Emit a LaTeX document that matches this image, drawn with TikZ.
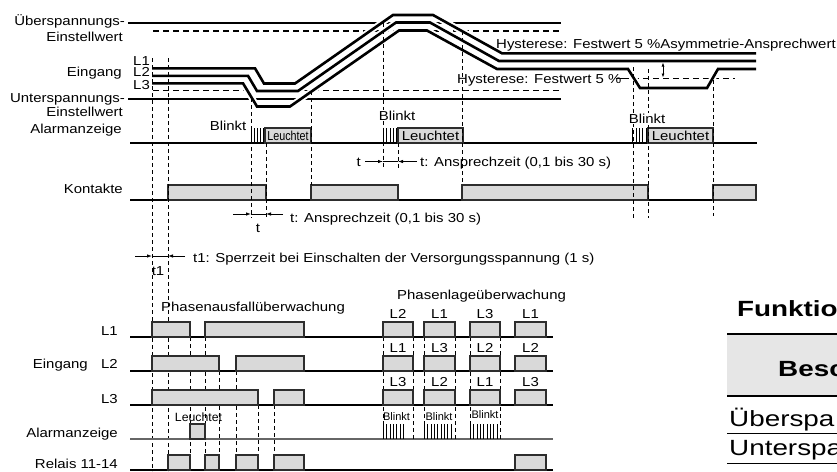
\documentclass[tikz,border=0pt]{standalone}
\usepackage{graphicx}
\usepackage{fontspec}
\setmainfont{Liberation Sans}[FakeStretch=1.15]
\usetikzlibrary{arrows.meta}
\definecolor{pfill}{RGB}{217,217,217}
\definecolor{pdraw}{RGB}{45,45,45}
\definecolor{hfill}{RGB}{230,230,230}
\newcommand\lf{\fontsize{13}{15}\selectfont}
\newcommand\tf{\fontsize{22}{26}\selectfont}
\newcommand\tbl[1]{\scalebox{1.1}[1]{#1}}
\begin{document}
\begin{tikzpicture}[x=1pt,y=-1pt,
  lbl/.style={inner sep=0pt, font=\lf},
  inl/.style={line width=2.6pt, line join=miter},
  casing/.style={line width=6.5pt, white},
  refl/.style={line width=2pt},
  refd/.style={line width=1.1pt, dash pattern=on 6pt off 4pt},
  guide/.style={line width=0.8pt, dash pattern=on 4pt off 3pt},
  baseln/.style={line width=1.1pt},
  pulse/.style={draw=pdraw, fill=pfill, line width=1.1pt},
  hatch/.style={line width=0.8pt},
  dim/.style={line width=0.8pt, -{Latex[length=5pt,width=3.5pt]}},
  blk/.style={lbl, fill=white, inner sep=0.6pt},
  tcell/.style={inner sep=0pt, anchor=base west, font=\tf},
]
\useasboundingbox (0,0) rectangle (837,471);
\begin{scope}
\clip (0,0) rectangle (837,471);

% ---------- left labels (top part)
\node[lbl, anchor=base east] (ov1) at (125,25) {Überspannungs-};
\node[lbl, anchor=base east] (ov2) at (123,41.7) {Einstellwert};
\node[lbl, anchor=base east] (ein) at (122,76.5) {Eingang};
\node[lbl, anchor=base west] (tl1) at (133,65) {L1};
\node[lbl, anchor=base west] (tl2) at (133,76.5) {L2};
\node[lbl, anchor=base west] (tl3) at (133,89) {L3};
\node[lbl, anchor=base east] (uv1) at (125,102.7) {Unterspannungs-};
\node[lbl, anchor=base east] (uv2) at (123,116) {Einstellwert};
\node[lbl, anchor=base east] (al) at (122,133) {Alarmanzeige};
\node[lbl, anchor=base east] (ko) at (123,193.5) {Kontakte};

% ---------- reference levels
\draw[refl] (128,22.7) -- (561,22.7);
\draw[refd] (153,31) -- (561,31);
\draw[refd] (153,90.8) -- (561,90.8);
\draw[refl] (128,98.7) -- (561,98.7);
\draw[refd] (623,78.5) -- (735,78.5);
\draw[line width=0.8pt] (616,78.5) -- (623,78.5);

% ---------- baselines
\draw[baseln] (130,143) -- (757,143);
\draw[baseln] (130,200) -- (757,200);

% ---------- input lines
\draw[casing] (152,68.3) -- (255,68.3) -- (264,83.5) -- (295,83.5) -- (393,15) -- (433,15) -- (502,53.3) -- (756,53.3);
\draw[casing] (152,75.8) -- (248,75.8) -- (257,91) -- (298,91) -- (396,22.5) -- (430,22.5) -- (499,61) -- (756,61);
\draw[casing] (152,83.3) -- (243,83.3) -- (257,106.5) -- (290,106.5) -- (399,30.5) -- (427,30.5) -- (497,69) -- (628,69) -- (640,88) -- (707,88) -- (718,69) -- (756,69);
\draw[inl] (152,68.3) -- (255,68.3) -- (264,83.5) -- (295,83.5) -- (393,15) -- (433,15) -- (502,53.3) -- (756,53.3);
\draw[inl] (152,75.8) -- (248,75.8) -- (257,91) -- (298,91) -- (396,22.5) -- (430,22.5) -- (499,61) -- (756,61);
\draw[inl] (152,83.3) -- (243,83.3) -- (257,106.5) -- (290,106.5) -- (399,30.5) -- (427,30.5) -- (497,69) -- (628,69) -- (640,88) -- (707,88) -- (718,69) -- (756,69);

% asymmetry arrow
\draw[line width=0.8pt, {Latex[length=4pt,width=3pt]}-{Latex[length=4pt,width=3pt]}] (663,62.5) -- (663,77.5);

% hysteresis labels
\node[lbl, anchor=base west] (hy1) at (496,48.3) {Hysterese: Festwert 5 \%Asymmetrie-Ansprechwert};
\node[lbl, anchor=base west] (hy2) at (457,83) {Hysterese: Festwert 5 \%};

% ---------- contacts
\draw[pulse] (168,185) rectangle (266,200);
\draw[pulse] (311,185) rectangle (398,200);
\draw[pulse] (462,185) rectangle (648,200);
\draw[pulse] (713,185) rectangle (756,200);

% ---------- alarm indicator (top)
\draw[pulse] (265,128) rectangle (311,143);
\draw[pulse] (398,128) rectangle (463,143);
\draw[pulse] (648,128) rectangle (713,143);
\foreach \x in {251,254.1,257.2,260.3,263.4} \draw[hatch] (\x,128) -- (\x,143);
\foreach \x in {383.3,386.7,390,393.3,396.7} \draw[hatch] (\x,128) -- (\x,143);
\foreach \x in {632.7,636,639.3,642.7,646} \draw[hatch] (\x,128) -- (\x,143);
\node[lbl] (lc1) at (288,135.8) {\scalebox{0.72}[1]{Leuchtet}};
\node[lbl] (lc2) at (430.5,135.8) {Leuchtet};
\node[lbl] (lc3) at (680.5,135.8) {Leuchtet};

% ---------- guide lines (top)
\draw[guide] (152,58) -- (152,471);
\draw[guide] (168,58) -- (168,471);
\draw[guide] (251,98) -- (251,218);
\draw[guide] (266,143) -- (266,218);
\draw[guide] (311,91) -- (311,185);
\draw[guide] (383,22.7) -- (383,168);
\draw[guide] (398,143) -- (398,168);
\draw[guide] (462,31) -- (462,185);
\draw[guide] (633,67) -- (633,218);
\draw[guide] (648,69) -- (648,218);
\draw[guide] (713,80) -- (713,216);

\node[blk, anchor=base west] (bl1) at (209,130.7) {Blinkt};
\node[blk, anchor=base west] (bl2) at (378,120) {Blinkt};
\node[blk, anchor=base west] (bl3) at (628,123.3) {Blinkt};

% ---------- dimension arrows
\coordinate (ua) at (365,161.5); \coordinate (ub) at (417,161.5);
\draw[dim] (ua) -- (383,161.5);
\draw[dim] (ub) -- (398,161.5);
\draw[line width=0.8pt] (383,161.5) -- (398,161.5);
\node[lbl, anchor=base east] (ut) at (361,166) {t};
\node[lbl, anchor=base west] (utx) at (420,166) {t: Ansprechzeit (0,1 bis 30 s)};

\draw[dim] (233,214) -- (251,214);
\draw[dim] (283,214) -- (266,214);
\draw[line width=0.8pt] (251,214) -- (266,214);
\node[lbl, anchor=base] (lt) at (258,232) {t};
\node[lbl, anchor=base west] (ltx) at (290,222) {t: Ansprechzeit (0,1 bis 30 s)};

\draw[dim] (135,256) -- (152,256);
\draw[dim] (185,256) -- (168,256);
\draw[line width=0.8pt] (152,256) -- (168,256);
\node[lbl, anchor=base] (t1) at (158,275) {t1};
\node[lbl, anchor=base west] (t1x) at (193,262) {t1: Sperrzeit bei Einschalten der Versorgungsspannung (1 s)};

% ---------- bottom part
\node[lbl, anchor=base west] (pa) at (161,311.7) {Phasenausfallüberwachung};
\node[lbl, anchor=base west] (pl) at (397,299) {Phasenlageüberwachung};
\node[lbl, anchor=base east] (bl1l) at (118,335) {L1};
\node[lbl, anchor=base east] (bein) at (88,368) {Eingang};
\node[lbl, anchor=base east] (bl2l) at (118,368) {L2};
\node[lbl, anchor=base east] (bl3l) at (118,403) {L3};
\node[lbl, anchor=base east] (bal) at (118,437) {Alarmanzeige};
\node[lbl, anchor=base east] (brel) at (118,468) {Relais 11-14};

\foreach \y in {337,371,405,470} \draw[baseln] (130,\y) -- (553,\y);
\draw[baseln, black!60] (130,439) -- (553,439);

% guides bottom
\draw[guide] (190,337) -- (190,455);
\draw[guide] (205,337) -- (205,455);
\draw[guide] (219,371) -- (219,455);
\draw[guide] (236,371) -- (236,455);
\draw[guide] (258,405) -- (258,455);
\draw[guide] (274,405) -- (274,455);
\foreach \x in {383,413,424,455,470,500} \draw[guide] (\x,337) -- (\x,439);

% phase loss pulses
\draw[pulse] (152,322) rectangle (190,337);
\draw[pulse] (205,322) rectangle (304,337);
\draw[pulse] (152,356) rectangle (219,371);
\draw[pulse] (236,356) rectangle (304,371);
\draw[pulse] (152,390) rectangle (258,405);
\draw[pulse] (274,390) rectangle (304,405);
\draw[pulse] (190,424) rectangle (205,439);
\draw[pulse] (168,455) rectangle (190,470);
\draw[pulse] (205,455) rectangle (219,470);
\draw[pulse] (236,455) rectangle (258,470);
\draw[pulse] (274,455) rectangle (304,470);
\node[lbl] (blc) at (198.5,417.5) {\fontsize{12}{14}\selectfont\scalebox{0.89}[1]{Leuchtet}};

% phase sequence pulses
\foreach \a/\b in {383/413,424/455,470/500,515/546} {
  \draw[pulse] (\a,322) rectangle (\b,337);
  \draw[pulse] (\a,356) rectangle (\b,371);
  \draw[pulse] (\a,390) rectangle (\b,405);
}
\draw[pulse] (515,455) rectangle (546,470);
\foreach \x/\r/\s/\t in {398/L2/L1/L3, 439.5/L1/L3/L2, 485/L3/L2/L1, 530.5/L1/L2/L3} {
  \node[lbl, anchor=base] at (\x,318) {\r};
  \node[lbl, anchor=base] at (\x,352.7) {\s};
  \node[lbl, anchor=base] at (\x,386.7) {\t};
}
\foreach \x in {383.5,386.8,...,405} \draw[hatch] (\x,424) -- (\x,439);
\foreach \x in {424.5,427.8,...,452} \draw[hatch] (\x,424) -- (\x,439);
\foreach \x in {470.5,473.8,...,500} \draw[hatch] (\x,424) -- (\x,439);
\node[lbl, anchor=base] (bb1) at (396.5,420) {\fontsize{11}{13}\selectfont\scalebox{0.87}[1]{Blinkt}};
\node[lbl, anchor=base] (bb2) at (439,420) {\fontsize{11}{13}\selectfont\scalebox{0.87}[1]{Blinkt}};
\node[lbl, anchor=base] (bb3) at (485,418) {\fontsize{11}{13}\selectfont\scalebox{0.87}[1]{Blinkt}};

% ---------- table fragment
\node[tcell, font=\tf\bfseries] (ft) at (737,316) {\tbl{Funktio}};
\fill[hfill] (727,334) rectangle (837,396);
\draw[line width=2pt] (727,334) -- (837,334);
\draw[line width=2pt] (727,396) -- (837,396);
\node[tcell, font=\tf\bfseries] (bs) at (778,376) {\tbl{Besc}};
\node[tcell] (r1) at (729,426) {\tbl{Überspa}};
\draw[line width=1pt] (727,433) -- (837,433);
\node[tcell] (r2) at (729,455) {\tbl{Unterspa}};
\draw[line width=1pt] (727,463) -- (837,463);
\end{scope}
\end{tikzpicture}
\end{document}
